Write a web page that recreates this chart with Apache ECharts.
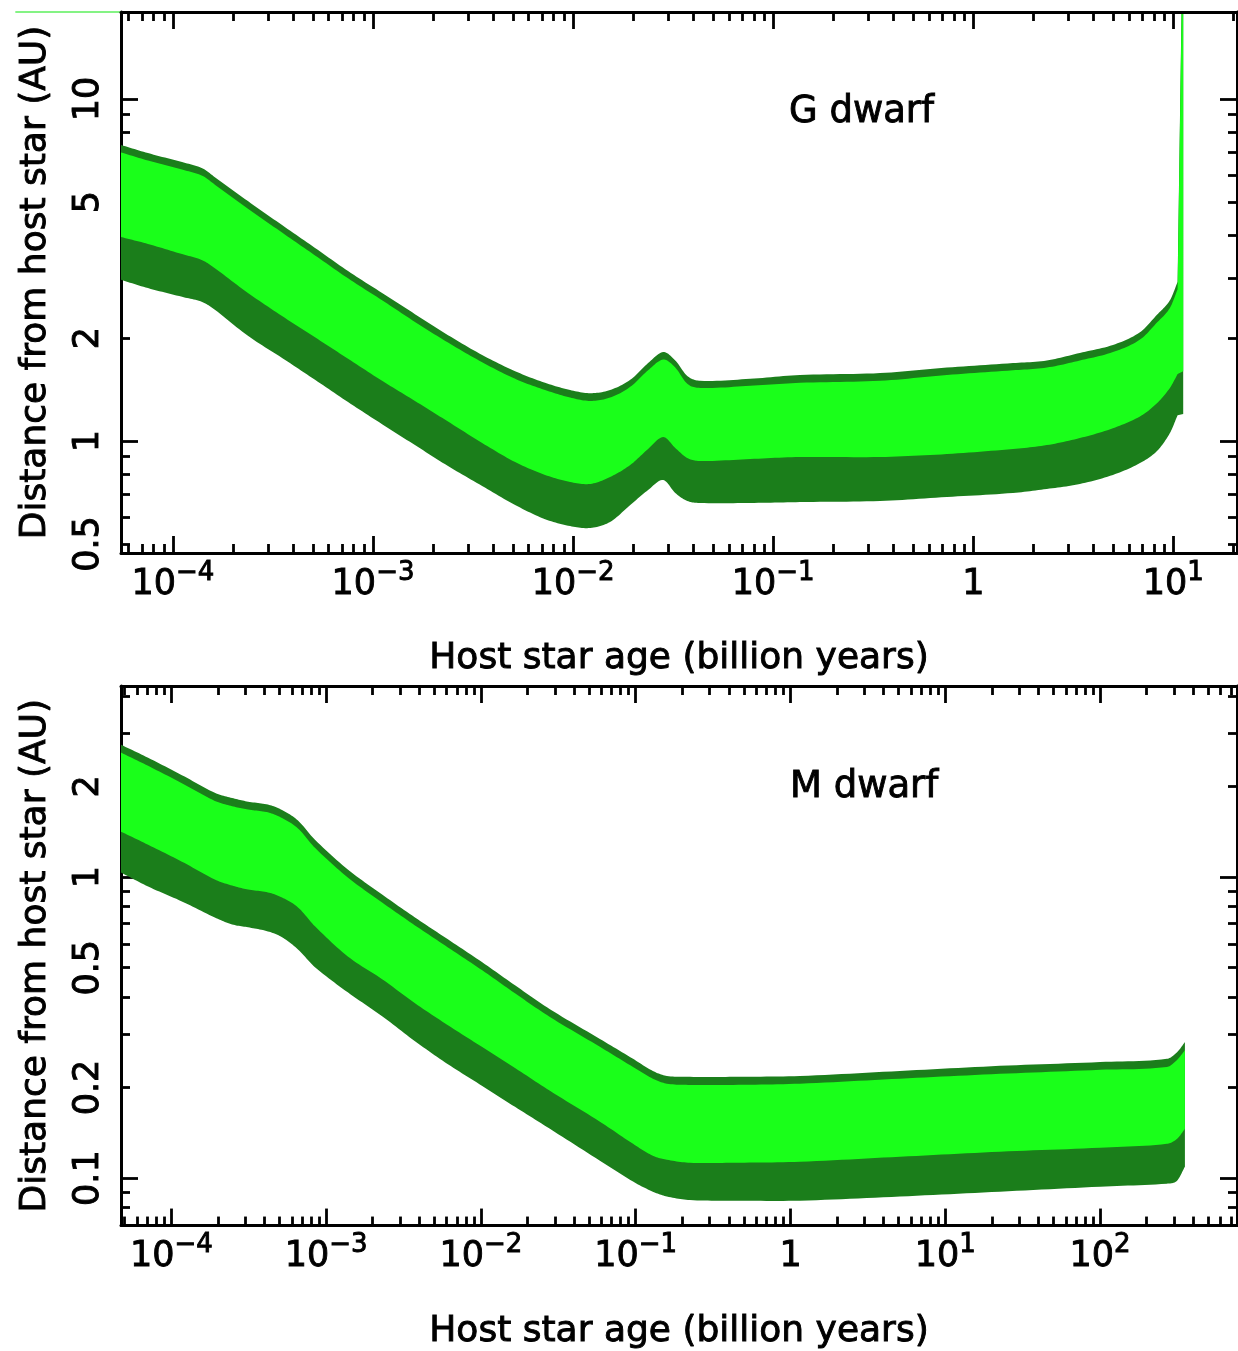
<!DOCTYPE html>
<html>
<head>
<meta charset="utf-8">
<script src="https://cdn.jsdelivr.net/npm/echarts@6/dist/echarts.min.js"></script>
<style>
html,body{margin:0;padding:0;background:#fff;}
#chart{width:1238px;height:1351px;}
</style>
</head>
<body>
<div id="chart"></div>
<script>
// ---------------- G dwarf panel data ----------------
const G_AGE = [5.5e-5, 7.5e-5, 1.11e-4, 1.40e-4, 1.62e-4, 2.37e-4, 3.51e-4, 5.13e-4, 7.50e-4, 1.11e-3,
  1.62e-3, 2.37e-3, 3.51e-3, 5.13e-3, 7.24e-3, 9.66e-3, 1.22e-2, 1.53e-2, 1.93e-2, 2.37e-2,
  2.82e-2, 3.24e-2, 3.72e-2, 4.31e-2, 7.66e-2, 0.136, 0.342, 0.738, 1.58, 2.33,
  3.41, 4.99, 6.81, 8.28, 9.61, 10.5, 11.2];
const G_OUTER_TOP = [7.34, 6.95, 6.54, 6.28, 5.91, 5.03, 4.28, 3.67, 3.14, 2.71,
  2.35, 2.04, 1.785, 1.60, 1.48, 1.41, 1.38, 1.41, 1.51, 1.69,
  1.82, 1.72, 1.55, 1.50, 1.52, 1.56, 1.58, 1.64, 1.69, 1.72,
  1.81, 1.91, 2.08, 2.34, 2.58, 2.92, 40];
const G_INNER_TOP = [6.98, 6.61, 6.22, 5.97, 5.62, 4.78, 4.07, 3.49, 2.99, 2.58,
  2.23, 1.94, 1.70, 1.52, 1.41, 1.34, 1.31, 1.34, 1.44, 1.61,
  1.73, 1.64, 1.47, 1.43, 1.45, 1.48, 1.50, 1.56, 1.61, 1.64,
  1.72, 1.82, 1.98, 2.22, 2.45, 2.78, 38];
const G_INNER_BOTTOM = [3.95, 3.77, 3.52, 3.38, 3.20, 2.71, 2.32, 2.01, 1.74, 1.50,
  1.31, 1.14, 0.987, 0.868, 0.796, 0.759, 0.749, 0.785, 0.851, 0.948,
  1.027, 0.954, 0.892, 0.874, 0.886, 0.898, 0.898, 0.916, 0.948, 0.973,
  1.02, 1.09, 1.18, 1.29, 1.43, 1.57, 1.60];
const G_OUTER_BOTTOM = [2.96, 2.80, 2.64, 2.55, 2.42, 2.03, 1.75, 1.51, 1.30, 1.12,
  0.973, 0.845, 0.739, 0.650, 0.591, 0.564, 0.557, 0.580, 0.650, 0.719,
  0.769, 0.705, 0.668, 0.659, 0.659, 0.663, 0.668, 0.686, 0.705, 0.724,
  0.749, 0.796, 0.862, 0.935, 1.055, 1.19, 1.20];
// stray plotting artefact at top-left of upper panel
const G_STRAY_X = [1.63e-5, 5.5e-5];
const G_STRAY_Y = [17.97, 17.97];

// ---------------- M dwarf panel data ----------------
const M_AGE = [4.73e-5, 7.08e-5, 1.17e-4, 1.91e-4, 2.47e-4, 3.13e-4, 4.21e-4, 5.19e-4, 6.58e-4, 8.47e-4,
  1.38e-3, 2.30e-3, 3.75e-3, 6.12e-3, 1.02e-2, 1.66e-2, 2.79e-2, 5.87e-2, 9.61e-2, 0.129,
  0.159, 0.224, 0.425, 1.15, 5.09, 22.5, 100, 270, 314, 353];
const M_OUTER_TOP = [2.75, 2.49, 2.18, 1.905, 1.83, 1.78, 1.74, 1.67, 1.54, 1.33,
  1.06, 0.875, 0.734, 0.621, 0.521, 0.437, 0.364, 0.290, 0.249, 0.227,
  0.2185, 0.217, 0.217, 0.2185, 0.227, 0.236, 0.243, 0.249, 0.262, 0.283];
const M_INNER_TOP = [2.59, 2.34, 2.05, 1.79, 1.72, 1.675, 1.64, 1.57, 1.45, 1.25,
  0.997, 0.823, 0.691, 0.584, 0.490, 0.411, 0.343, 0.273, 0.234, 0.214,
  0.206, 0.204, 0.204, 0.206, 0.214, 0.222, 0.229, 0.234, 0.247, 0.266];
const M_INNER_BOTTOM = [1.415, 1.28, 1.125, 0.981, 0.937, 0.909, 0.889, 0.855, 0.793, 0.686,
  0.545, 0.458, 0.381, 0.322, 0.2725, 0.2322, 0.195, 0.154, 0.130, 0.1187,
  0.1151, 0.1125, 0.1125, 0.1134, 0.1178, 0.1224, 0.1262, 0.130, 0.1351, 0.1458];
const M_OUTER_BOTTOM = [1.035, 0.930, 0.830, 0.734, 0.696, 0.681, 0.660, 0.631, 0.575, 0.502,
  0.414, 0.345, 0.285, 0.239, 0.2024, 0.1725, 0.1458, 0.1143, 0.0974, 0.0902,
  0.0869, 0.0846, 0.0842, 0.0842, 0.0869, 0.0902, 0.0937, 0.0959, 0.0981, 0.1092];

// ---------------- axes / ticks ----------------
const G_X_RANGE = [5.5e-5, 20.8];
const G_Y_RANGE = [0.4705, 17.97];
const M_X_RANGE = [4.73e-5, 766];
const M_Y_RANGE = [0.0696, 4.31];

const G_X_MAJOR = [1e-4, 1e-3, 1e-2, 1e-1, 1, 10];
const M_X_MAJOR = [1e-4, 1e-3, 1e-2, 1e-1, 1, 10, 100];
const G_Y_MAJOR = [1, 10];
const G_Y_MINOR = [0.5, 0.6, 0.7, 0.8, 0.9, 2, 3, 4, 5, 6, 7, 8, 9];
const G_Y_LABELS = [0.5, 1, 2, 5, 10];
const M_Y_MAJOR = [0.1, 1];
const M_Y_MINOR = [0.07, 0.08, 0.09, 0.2, 0.3, 0.4, 0.5, 0.6, 0.7, 0.8, 0.9, 2, 3, 4];
const M_Y_LABELS = [0.1, 0.2, 0.5, 1, 2];

const PANEL_LABELS = ['G dwarf', 'M dwarf'];
const X_TITLE = 'Host star age (billion years)';
const Y_TITLE = 'Distance from host star (AU)';

const DARK = '#1b7e1b';
const BRIGHT = '#1aff1a';
const FONT = 'DejaVu Sans';
const EMB = { textBorderColor: '#000', textBorderWidth: 0.9 };

function minorTicks(range) {
  const out = [];
  const e0 = Math.floor(Math.log10(range[0])), e1 = Math.ceil(Math.log10(range[1]));
  for (let e = e0; e <= e1; e++) {
    for (let k = 2; k <= 9; k++) {
      const v = k * Math.pow(10, e);
      if (v >= range[0] && v <= range[1]) out.push(v);
    }
  }
  return out;
}

function xLabel(v) {
  const e = Math.round(Math.log10(v));
  if (e === 0) return '{b|1}';
  return '{b|10}{s|' + (e < 0 ? '\u2212' : '') + Math.abs(e) + '}';
}
function yLabel(v) { return String(parseFloat(Number(v).toPrecision(3))); }

const TICK_W = 2.8;
function makeX(gi, range, position, ticks, len, opt) {
  opt = opt || {};
  return {
    type: 'log', logBase: 10, gridIndex: gi, min: range[0], max: range[1], position: position,
    z: opt.z == null ? 3 : opt.z,
    name: opt.name || '', nameLocation: 'middle', nameGap: opt.nameGap || 0,
    nameTextStyle: Object.assign({ fontFamily: FONT, fontSize: 36, color: '#000' }, EMB),
    axisLine: { show: !!opt.line, onZero: false, lineStyle: { color: '#000', width: 3 } },
    axisTick: { show: true, inside: true, length: len, customValues: ticks, lineStyle: { color: '#000', width: TICK_W } },
    axisLabel: opt.labels ? {
      show: true, customValues: opt.labels, margin: 7, formatter: xLabel,
      rich: {
        b: Object.assign({ fontFamily: FONT, fontSize: 35, color: '#000', lineHeight: 42, verticalAlign: 'bottom' }, EMB),
        s: Object.assign({ fontFamily: FONT, fontSize: 26, color: '#000', lineHeight: 26, verticalAlign: 'top' }, EMB)
      }
    } : { show: false },
    splitLine: { show: false }, minorTick: { show: false }, minorSplitLine: { show: false }
  };
}
function makeY(gi, range, position, ticks, len, opt) {
  opt = opt || {};
  return {
    type: 'log', logBase: 10, gridIndex: gi, min: range[0], max: range[1], position: position,
    z: opt.z == null ? 3 : opt.z,
    name: opt.name || '', nameLocation: 'middle', nameGap: opt.nameGap || 0,
    nameTextStyle: Object.assign({ fontFamily: FONT, fontSize: 36, color: '#000' }, EMB),
    axisLine: { show: !!opt.line, onZero: false, lineStyle: { color: '#000', width: 3 } },
    axisTick: { show: true, inside: true, length: len, customValues: ticks, lineStyle: { color: '#000', width: TICK_W } },
    axisLabel: opt.labels ? Object.assign({
      show: true, customValues: opt.labels, rotate: 90, margin: 15, formatter: yLabel,
      fontFamily: FONT, fontSize: 35, color: '#000'
    }, EMB) : { show: false },
    splitLine: { show: false }, minorTick: { show: false }, minorSplitLine: { show: false }
  };
}

const MAJ = 17, MIN = 9;
const xAxes = [
  makeX(0, G_X_RANGE, 'bottom', G_X_MAJOR, MAJ, { line: true, labels: G_X_MAJOR, name: X_TITLE, nameGap: 88 }),
  makeX(0, G_X_RANGE, 'bottom', minorTicks(G_X_RANGE), MIN),
  makeX(0, G_X_RANGE, 'top', G_X_MAJOR, MAJ, { line: true }),
  makeX(0, G_X_RANGE, 'top', minorTicks(G_X_RANGE), MIN),
  makeX(1, M_X_RANGE, 'bottom', M_X_MAJOR, MAJ, { line: true, labels: M_X_MAJOR, name: X_TITLE, nameGap: 88 }),
  makeX(1, M_X_RANGE, 'bottom', minorTicks(M_X_RANGE), MIN),
  makeX(1, M_X_RANGE, 'top', M_X_MAJOR, MAJ, { line: true }),
  makeX(1, M_X_RANGE, 'top', minorTicks(M_X_RANGE), MIN)
];
const yAxes = [
  makeY(0, G_Y_RANGE, 'left', G_Y_MAJOR, MAJ, { line: true, labels: G_Y_LABELS, name: Y_TITLE, nameGap: 67, z: 1 }),
  makeY(0, G_Y_RANGE, 'left', G_Y_MINOR, MIN, { z: 1 }),
  makeY(0, G_Y_RANGE, 'right', G_Y_MAJOR, MAJ, { line: true }),
  makeY(0, G_Y_RANGE, 'right', G_Y_MINOR, MIN),
  makeY(1, M_Y_RANGE, 'left', M_Y_MAJOR, MAJ, { line: true, labels: M_Y_LABELS, name: Y_TITLE, nameGap: 67, z: 1 }),
  makeY(1, M_Y_RANGE, 'left', M_Y_MINOR, MIN, { z: 1 }),
  makeY(1, M_Y_RANGE, 'right', M_Y_MAJOR, MAJ, { line: true }),
  makeY(1, M_Y_RANGE, 'right', M_Y_MINOR, MIN)
];

// smooth a curve (pixel points from the axes) with a cubic Hermite in x
function smoothCurve(pts, straightLast) {
  const n = pts.length;
  const last = straightLast ? n - 2 : n - 1; // last index of the smooth part
  const m = new Array(n).fill(0);
  for (let i = 0; i <= last; i++) {
    let a = i - 1, b = i + 1;
    if (a < 0) a = 0;
    if (b > last) b = last;
    const dx = pts[b][0] - pts[a][0];
    m[i] = dx !== 0 ? (pts[b][1] - pts[a][1]) / dx : 0;
  }
  const out = [pts[0]];
  const S = 12;
  for (let i = 0; i < n - 1; i++) {
    const p0 = pts[i], p1 = pts[i + 1];
    if (i >= last) { out.push(p1); continue; }
    const dx = p1[0] - p0[0];
    const c1 = [p0[0] + dx / 3, p0[1] + m[i] * dx / 3];
    const c2 = [p1[0] - dx / 3, p1[1] - m[i + 1] * dx / 3];
    for (let s = 1; s <= S; s++) {
      const t = s / S, u = 1 - t;
      out.push([
        u * u * u * p0[0] + 3 * u * u * t * c1[0] + 3 * u * t * t * c2[0] + t * t * t * p1[0],
        u * u * u * p0[1] + 3 * u * u * t * c1[1] + 3 * u * t * t * c2[1] + t * t * t * p1[1]
      ]);
    }
  }
  return out;
}

function band(axisIdx, ages, upper, lower, color, straightLast) {
  return {
    type: 'custom', xAxisIndex: axisIdx, yAxisIndex: axisIdx, clip: true, silent: true, z: 2,
    data: [[ages[0], upper[0]]],
    renderItem: function (params, api) {
      const up = ages.map((a, i) => api.coord([a, upper[i]]));
      const lo = ages.map((a, i) => api.coord([a, lower[i]]));
      const pts = smoothCurve(up, straightLast).concat(smoothCurve(lo, straightLast).reverse());
      return { type: 'polygon', shape: { points: pts }, style: { fill: color, stroke: null } };
    }
  };
}

const option = {
  backgroundColor: '#fff',
  animation: false,
  title: [
    { text: PANEL_LABELS[0], left: 789, top: 94, padding: 0, textStyle: Object.assign({ fontFamily: FONT, fontSize: 37, fontWeight: 'normal', color: '#000' }, EMB) },
    { text: PANEL_LABELS[1], left: 790, top: 769, padding: 0, textStyle: Object.assign({ fontFamily: FONT, fontSize: 37, fontWeight: 'normal', color: '#000' }, EMB) }
  ],
  grid: [
    { left: 121, top: 12, width: 1116, height: 541 },
    { left: 121, top: 686, width: 1116, height: 541 }
  ],
  xAxis: xAxes,
  yAxis: yAxes,
  series: [
    band(0, G_AGE, G_OUTER_TOP, G_OUTER_BOTTOM, DARK, true),
    band(0, G_AGE, G_INNER_TOP, G_INNER_BOTTOM, BRIGHT, true),
    band(4, M_AGE, M_OUTER_TOP, M_OUTER_BOTTOM, DARK, false),
    band(4, M_AGE, M_INNER_TOP, M_INNER_BOTTOM, BRIGHT, false),
    {
      type: 'custom', xAxisIndex: 0, yAxisIndex: 0, clip: false, silent: true, z: 2,
      data: [[G_STRAY_X[0], G_STRAY_Y[0]]],
      renderItem: function (params, api) {
        const pts = G_STRAY_X.map((x, i) => api.coord([x, G_STRAY_Y[i]]));
        return { type: 'polyline', shape: { points: pts }, style: { stroke: '#5bef5b', lineWidth: 1.5, fill: null } };
      }
    }
  ]
};

const chart = echarts.init(document.getElementById('chart'), null, { renderer: 'canvas' });
chart.setOption(option);
</script>
</body>
</html>
